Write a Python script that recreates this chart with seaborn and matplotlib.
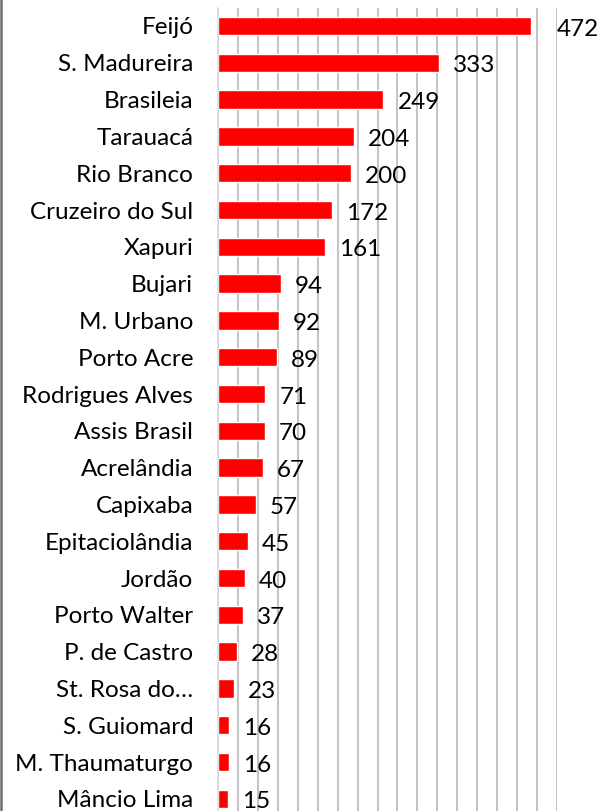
import matplotlib
matplotlib.use("Agg")
import matplotlib.pyplot as plt
import seaborn as sns
import pandas as pd
from matplotlib.lines import Line2D

# municipalities and counts
municipios = [
    "Feijó", "S. Madureira", "Brasileia", "Tarauacá", "Rio Branco",
    "Cruzeiro do Sul", "Xapuri", "Bujari", "M. Urbano", "Porto Acre",
    "Rodrigues Alves", "Assis Brasil", "Acrelândia", "Capixaba",
    "Epitaciolândia", "Jordão", "Porto Walter", "P. de Castro",
    "St. Rosa do…", "S. Guiomard", "M. Thaumaturgo", "Mâncio Lima",
]
casos = [472, 333, 249, 204, 200, 172, 161, 94, 92, 89, 71, 70, 67, 57,
         45, 40, 37, 28, 23, 16, 16, 15]

x_max = 510
grid_step = 30

df = pd.DataFrame({"municipio": municipios, "casos": casos})

sns.set_theme(style="white")
plt.rcParams["font.family"] = ["Lato", "DejaVu Sans"]

fig = plt.figure(figsize=(6.02, 8.11), dpi=100)
ax = fig.add_axes([0.3626, -0.00765, 0.5621, 0.99828])

sns.barplot(data=df, x="casos", y="municipio", orient="h", color="#ff0000",
            saturation=1, width=0.5, ax=ax, zorder=3)

ax.set_xlim(0, x_max)
ax.set_xticks(range(0, x_max + 1, grid_step))
ax.xaxis.grid(True, color="#c3c3c3", linewidth=1.4, zorder=0)
ax.yaxis.grid(False)
ax.set_xticklabels([])
ax.tick_params(axis="x", length=0)
ax.tick_params(axis="y", length=0, pad=18, labelsize=17.5, labelcolor="black")
ax.set_xlabel("")
ax.set_ylabel("")

for side in ["top", "right", "bottom"]:
    ax.spines[side].set_visible(False)
ax.spines["left"].set_color("#d6dbe2")
ax.spines["left"].set_linewidth(1.1)
ax.spines["left"].set_zorder(4)

# value labels, baseline a bit below bar centre so digits sit centred
for i, v in enumerate(casos):
    gap = 18 if v == max(casos) else 10
    ax.annotate(str(v), xy=(v, i + 0.26), xytext=(gap, 0),
                textcoords="offset points", va="baseline", ha="left",
                fontsize=17.5, color="black")

# chart border, only the left edge shows in the crop
fig.add_artist(Line2D([0.002, 0.002], [0, 1], transform=fig.transFigure,
                      color="#6e6e6e", linewidth=1.8))

fig.savefig("out.png", dpi=100)
